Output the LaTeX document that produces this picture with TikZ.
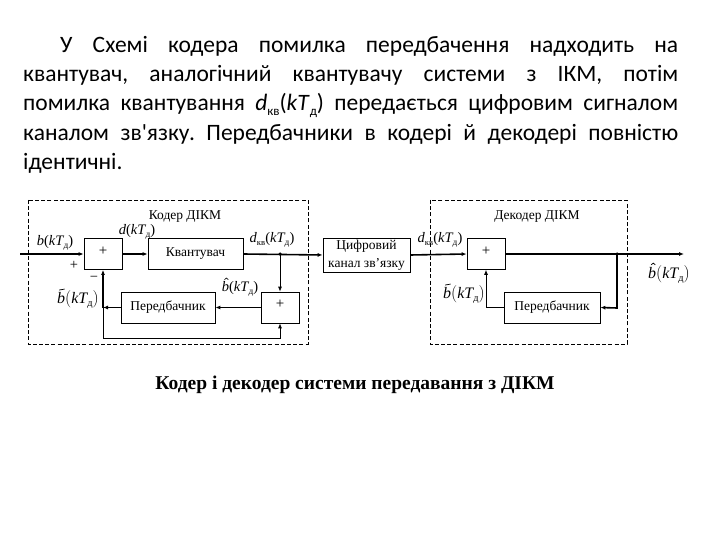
\documentclass[tikz,border=0pt]{standalone}
\usepackage{fontspec}
\setmainfont{Liberation Serif}
\newfontfamily\bodyfont{Carlito}
\usetikzlibrary{arrows.meta}
\newcommand\Tdd{\textit{kT}\kern-0.05em\raisebox{-0.4ex}{\scalebox{0.65}{д}}}
\newcommand\dkv{\textit{d}\raisebox{-0.4ex}{\scalebox{0.6}{кв}}}
\newcommand\hatb{\tikz[baseline=0pt,x=1em,y=1em]{\node[inner sep=0pt,anchor=base west] (bb) at (0,0) {\textit{b}};
  \draw[line width=0.045em] (0.2,0.84) -- (0.33,0.95) -- (0.46,0.84);}}
\newcommand\tilb{\tikz[baseline=0pt,x=1em,y=1em]{\node[inner sep=0pt,anchor=base west] (bb) at (0,0) {\textit{b}};
  \draw[line width=0.045em] (0.14,0.84) .. controls (0.24,0.97) and (0.34,0.76) .. (0.48,0.9);}}
\begin{document}
\begin{tikzpicture}[x=1pt,y=-1pt,
  blk/.style={draw,line width=0.7pt,inner sep=0pt,font=\fontsize{13.5}{15}\selectfont},
  sumbox/.style={blk,minimum width=38pt,minimum height=31pt,font=\fontsize{15}{16}\selectfont},
  lbl/.style={inner sep=0pt,font=\fontsize{14.5}{16}\selectfont},
  ttl/.style={inner sep=0pt,font=\fontsize{13.5}{15}\selectfont},
  frame/.style={draw,line width=0.6pt,dash pattern=on 4pt off 2.2pt},
  thk/.style={line width=1.6pt},
  thn/.style={line width=0.8pt},
  arr/.style={-{Latex[length=5pt,width=4pt]}},
  dotj/.style={circle,fill,inner sep=0pt,minimum size=3.5pt}
]
\useasboundingbox (0,0) rectangle (720,540);
\fill[white] (0,0) rectangle (720,540);

% paragraph
\node[anchor=north west,text width=655pt,align=justify,inner sep=0pt,
      font=\bodyfont\fontsize{23.5}{29.3}\selectfont\frenchspacing] (txt) at (23,36)
{\hspace*{37pt}У Схемі кодера помилка передбачення надходить на\linebreak
квантувач, аналогічний квантувачу системи з ІКМ, потім\linebreak
помилка квантування \textit{d}\raisebox{-0.4ex}{\scalebox{0.55}{кв}}(\textit{kT}\raisebox{-0.4ex}{\scalebox{0.55}{д}}) передається цифровим сигналом\linebreak
каналом зв'язку. Передбачники в кодері й декодері повністю\linebreak
ідентичні.};

% frames
\draw[frame] (28,200) rectangle (308,344);
\draw[frame] (430,200) rectangle (627,344);
\node[ttl] (tc) at (185,217) {Кодер ДІКМ};
\node[ttl] (td) at (537,217) {Декодер ДІКМ};

% coder blocks
\node[sumbox] (s1) at (103,254) {\raisebox{6pt}{+}};
\node[blk,minimum width=95pt,minimum height=31pt] (q) at (195.5,254) {\raisebox{1pt}{Квантувач}};
\node[sumbox] (s2) at (280,307.5) {\raisebox{6pt}{+}};
\node[blk,minimum width=94pt,minimum height=31pt] (p1) at (168,307.5) {\raisebox{4pt}{Передбачник}};
\node[blk,minimum width=87pt,minimum height=34pt,align=center,
      font=\fontsize{13.5}{18}\selectfont] (ch) at (366.5,255) {Цифровий\\канал зв'язку};
% decoder blocks
\node[sumbox] (s3) at (486,254) {\raisebox{6pt}{+}};
\node[blk,minimum width=96pt,minimum height=31pt] (p2) at (552,307.5) {\raisebox{2pt}{Передбачник}};

% coordinates
\coordinate (in) at (20,254);
\coordinate (j1) at (280,254);
\coordinate (k1) at (103,307.5);
\coordinate (k2) at (103,338);
\coordinate (k3) at (280,338);
\coordinate (j2) at (617,254);
\coordinate (out) at (684,254);
\coordinate (m1) at (617,308);

% coder connectors
\draw[thk,arr] (in) -- (s1.west);
\draw[thk,arr] (s1.east) -- (q.west);
\draw[thk,arr] (q.east) -- (ch.west);
\node[dotj] (dj1) at (j1) {};
\draw[thn,arr] (j1) -- (s2.north);
\draw[thk,arr] (s2.west) -- (p1.east);
\draw[thk,arr] (p1.west) -- (k1);
\draw[thk,arr] (k1) -- (s1.south);
\draw[thn] (k1) -- (k2);
\draw[thn,arr] (k2) -- (k3) -- (s2.south);

% decoder connectors
\draw[thk,arr] (ch.east) -- (s3.west);
\draw[thk,arr] (s3.east) -- (out);
\node[dotj] (dj2) at (j2) {};
\draw[thk,arr] (j2) -- (m1) -- (p2.east);
\draw[thn,arr] (p2.west) -| (s3.south);

% labels
\node[lbl] (lb) at (55,243) {\textit{b}(\Tdd)};
\node[lbl] (lp) at (74,265) {+};
\node[lbl] (lm) at (94,279) {−};
\node[lbl] (ld) at (137,232) {\textit{d}(\Tdd)};
\node[lbl] (ldk) at (272,240) {\dkv(\Tdd)};
\node[lbl] (lbh) at (240,287) {\hatb(\Tdd)};
\node[lbl,font=\fontsize{16}{17}\selectfont] (lbt) at (78,298) {\tilb\big(\Tdd\big)};
\node[lbl] (ldk2) at (440,240) {\dkv(\Tdd)};
\node[lbl,font=\fontsize{16}{17}\selectfont] (lbt2) at (464,293) {\tilb\big(\Tdd\big)};
\node[lbl,font=\fontsize{16}{17}\selectfont] (lout) at (669,273) {\hatb\big(\Tdd\big)};

% caption
\node[inner sep=0pt,font=\bfseries\fontsize{19.5}{21}\selectfont] (cap) at (355,385)
  {Кодер і декодер системи передавання з ДІКМ};
\end{tikzpicture}
\end{document}
